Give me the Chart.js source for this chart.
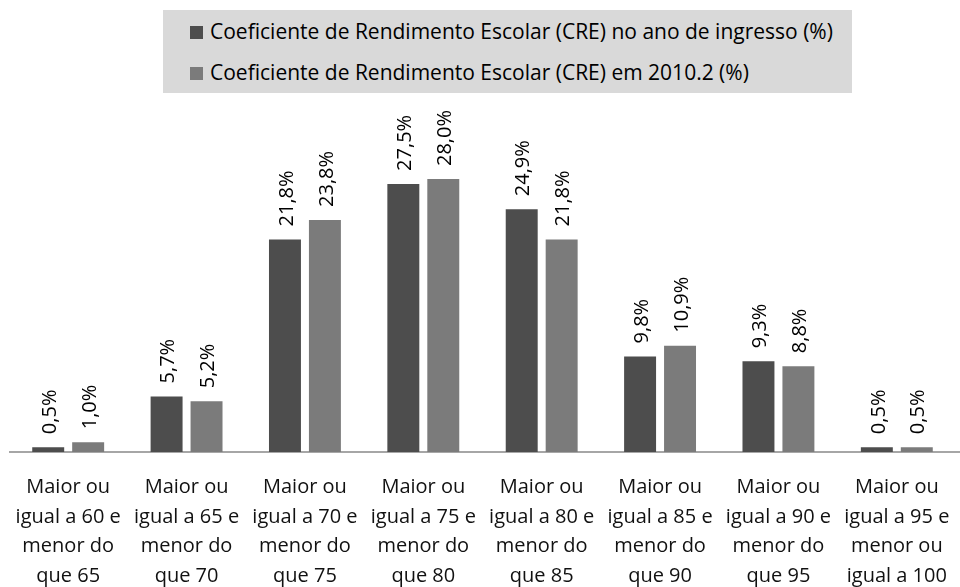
<!DOCTYPE html>
<html>
<head>
<meta charset="utf-8">
<script src="https://cdn.jsdelivr.net/npm/chart.js@4/dist/chart.umd.min.js"></script>
<style>
  html, body { margin: 0; padding: 0; background: #fff; }
  #wrap { position: relative; width: 960px; height: 587px; }
  #legend {
    position: absolute; left: 163px; top: 10px; width: 689px; height: 83px;
    background: #d9d9d9; font-family: "Open Sans", sans-serif; font-size: 21px; color: #000;
  }
  #legend div { position: absolute; left: 27px; white-space: nowrap; line-height: 22px; }
  #legend span { display: inline-block; width: 13px; height: 13px; margin-right: 7px; vertical-align: 0px; }
</style>
</head>
<body>
<div id="wrap">
  <canvas id="chart" width="960" height="587"></canvas>
  <div id="legend"></div>
</div>
<script>
const categories = [
  ["Maior ou", "igual a 60 e", "menor do", "que 65"],
  ["Maior ou", "igual a 65 e", "menor do", "que 70"],
  ["Maior ou", "igual a 70 e", "menor do", "que 75"],
  ["Maior ou", "igual a 75 e", "menor do", "que 80"],
  ["Maior ou", "igual a 80 e", "menor do", "que 85"],
  ["Maior ou", "igual a 85 e", "menor do", "que 90"],
  ["Maior ou", "igual a 90 e", "menor do", "que 95"],
  ["Maior ou", "igual a 95 e", "menor ou", "igual a 100"],
];
const seriesNames = [
  "Coeficiente de Rendimento Escolar (CRE) no ano de ingresso (%)",
  "Coeficiente de Rendimento Escolar (CRE) em 2010.2 (%)",
];
const ingresso = [0.5, 5.7, 21.8, 27.5, 24.9, 9.8, 9.3, 0.5];
const cre2010 = [1.0, 5.2, 23.8, 28.0, 21.8, 10.9, 8.8, 0.5];
const colors = ["#4d4d4d", "#7b7b7b"];

// legend as html, left aligned inside grey box
const legend = document.getElementById("legend");
seriesNames.forEach((name, i) => {
  const row = document.createElement("div");
  row.style.top = (i === 0 ? 10 : 51) + "px";
  row.innerHTML = '<span style="background:' + colors[i] + '"></span>' + name;
  legend.appendChild(row);
});

// axis line runs to the right edge of the picture
const axisLine = {
  id: "axisLine",
  beforeDatasetsDraw(chart) {
    const ctx = chart.ctx;
    const y = chart.chartArea.bottom;
    ctx.save();
    ctx.strokeStyle = "#888";
    ctx.lineWidth = 1.6;
    ctx.beginPath();
    ctx.moveTo(chart.chartArea.left, y);
    ctx.lineTo(chart.width, y);
    ctx.stroke();
    ctx.restore();
  },
};

const valueLabels = {
  id: "valueLabels",
  afterDatasetsDraw(chart) {
    const ctx = chart.ctx;
    ctx.save();
    ctx.font = '20px "Open Sans", sans-serif';
    ctx.fillStyle = "#000";
    ctx.textAlign = "left";
    ctx.textBaseline = "middle";
    chart.data.datasets.forEach((ds, i) => {
      chart.getDatasetMeta(i).data.forEach((bar, j) => {
        const txt = ds.data[j].toFixed(1).replace(".", ",") + "%";
        ctx.save();
        ctx.translate(bar.x + 2, bar.y - 13);
        ctx.rotate(-Math.PI / 2);
        ctx.fillText(txt, 0, 0);
        ctx.restore();
      });
    });
    ctx.restore();
  },
};

new Chart(document.getElementById("chart"), {
  type: "bar",
  data: {
    labels: categories,
    datasets: [
      {
        label: seriesNames[0],
        data: ingresso,
        backgroundColor: colors[0],
        categoryPercentage: 0.675,
        barPercentage: 0.8,
      },
      {
        label: seriesNames[1],
        data: cre2010,
        backgroundColor: colors[1],
        categoryPercentage: 0.675,
        barPercentage: 0.8,
      },
    ],
  },
  options: {
    responsive: false,
    animation: false,
    layout: {
      padding: { top: 159.5, left: 9, right: 4, bottom: 0 },
    },
    scales: {
      x: {
        grid: { display: false, drawTicks: false },
        border: { display: false },
        ticks: {
          color: "#111",
          font: { family: '"Open Sans", sans-serif', size: 20, lineHeight: 1.475 },
          padding: 21,
          autoSkip: false,
          maxRotation: 0,
        },
        afterFit: (scale) => {
          scale.height = 135;
          scale.paddingLeft = 0;
          scale.paddingRight = 0;
        },
      },
      y: {
        display: false,
        min: 0,
        max: 30,
      },
    },
    plugins: {
      legend: { display: false },
      tooltip: { enabled: false },
    },
  },
  plugins: [axisLine, valueLabels],
});
</script>
</body>
</html>
